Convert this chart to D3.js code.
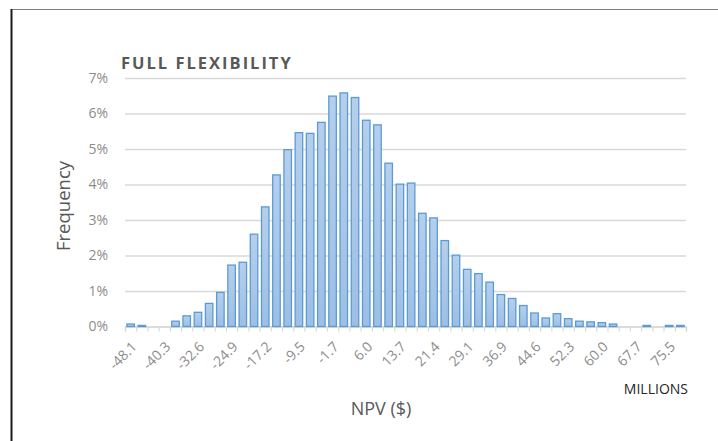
<!DOCTYPE html>
<html>
<head>
  <script src="https://cdn.jsdelivr.net/npm/d3@7" charset="utf-8"></script>
  <style>
    body { margin: 0; background: #fff; }
    svg text { font-family: "Open Sans", "Noto Sans", sans-serif; }
  </style>
</head>
<body>
  <script>

  var width = 718
  var height = 441

  // frequency per bin (%), 50 bins of ~2.57 million
  var freq = [
    0.07, 0.03, 0, 0, 0.15, 0.30, 0.40, 0.65, 0.96, 1.73,
    1.81, 2.60, 3.37, 4.27, 4.98, 5.46, 5.44, 5.75, 6.49, 6.58,
    6.45, 5.81, 5.68, 4.60, 4.01, 4.04, 3.19, 3.06, 2.42, 2.01,
    1.61, 1.49, 1.25, 0.90, 0.79, 0.59, 0.38, 0.24, 0.36, 0.22,
    0.15, 0.13, 0.11, 0.07, 0, 0, 0.03, 0, 0.03, 0.03
  ];

  // label shown under every third bin
  var tickLabels = ["-48.1", "-40.3", "-32.6", "-24.9", "-17.2", "-9.5", "-1.7", "6.0",
    "13.7", "21.4", "29.1", "36.9", "44.6", "52.3", "60.0", "67.7", "75.5"];

  var yTicks = [0, 1, 2, 3, 4, 5, 6, 7];

  var plotLeft = 125, plotRight = 686, plotTop = 78, plotBottom = 326.5;

  var svg = d3.select('body').append("svg")
    .attr("width", width)
    .attr("height", height);

  var grad = svg.append("defs").append("linearGradient")
    .attr("id", "barFill")
    .attr("x1", 0).attr("y1", 0).attr("x2", 0).attr("y2", 1);
  grad.append("stop").attr("offset", "0%").attr("stop-color", "#b5cfec");
  grad.append("stop").attr("offset", "100%").attr("stop-color", "#9dbfe5");

  // frame
  svg.append("line")
    .attr("x1", 11).attr("y1", 9.5).attr("x2", width).attr("y2", 9.5)
    .attr("stroke", "#7f7f7f").attr("stroke-width", 1);
  svg.append("line")
    .attr("x1", 11.5).attr("y1", 9).attr("x2", 11.5).attr("y2", height)
    .attr("stroke", "#1a1a1a").attr("stroke-width", 2);

  var x = d3.scaleBand()
    .domain(d3.range(freq.length))
    .range([plotLeft, plotRight])
    .paddingInner(0.33)
    .paddingOuter(0.165);

  var xb = d3.scaleLinear().domain([0, freq.length]).range([plotLeft, plotRight]);

  var y = d3.scaleLinear().domain([0, 7]).range([plotBottom, plotTop]);

  // y axis with gridlines
  var yAxis = svg.append("g")
    .attr("transform", "translate(" + plotLeft + ",0)")
    .call(d3.axisLeft(y).tickValues(yTicks).tickSize(-(plotRight - plotLeft)).tickPadding(17)
      .tickFormat(function(d) { return d + "%"; }));
  yAxis.select(".domain").remove();
  yAxis.selectAll(".tick line").attr("stroke", "#d9d9d9").attr("stroke-width", 1.4);
  yAxis.selectAll(".tick text")
    .attr("fill", "#8c8c8c")
    .attr("font-size", 14);

  // bin boundary tick marks
  var xTicks = svg.append("g")
    .attr("transform", "translate(0," + plotBottom + ")")
    .call(d3.axisBottom(xb).tickValues(d3.range(freq.length + 1)).tickSize(5).tickFormat(""));
  xTicks.select(".domain").attr("stroke", "#d9d9d9").attr("stroke-width", 1.4);
  xTicks.selectAll(".tick line").attr("stroke", "#d9d9d9").attr("stroke-width", 1.2);

  // bars
  svg.selectAll('.bar')
    .data(freq).enter()
    .append("rect")
    .attr("class", "bar")
    .attr("x", function(d, i) { return x(i); })
    .attr("width", x.bandwidth())
    .attr("y", function(d) { return y(d); })
    .attr("height", function(d) { return plotBottom - y(d); })
    .attr("fill", "url(#barFill)")
    .attr("stroke", function(d) { return d > 0 ? "#5b9bd5" : "none"; })
    .attr("stroke-width", 1.3);

  // category labels
  var xLab = svg.append("g")
    .attr("transform", "translate(0," + plotBottom + ")")
    .call(d3.axisBottom(x)
      .tickValues(d3.range(0, freq.length, 3))
      .tickSize(0)
      .tickFormat(function(d) { return tickLabels[d / 3]; }));
  xLab.select(".domain").remove();
  xLab.selectAll(".tick text")
    .attr("fill", "#8c8c8c")
    .attr("font-size", 14)
    .attr("text-anchor", "end")
    .attr("dy", 0)
    .attr("transform", "translate(5,19) rotate(-45)");

  // titles
  svg.append("text")
    .attr("x", 121).attr("y", 69)
    .attr("font-size", 16.5)
    .attr("font-weight", "bold")
    .attr("letter-spacing", 2)
    .attr("fill", "#595959")
    .text("FULL FLEXIBILITY");

  svg.append("text")
    .attr("transform", "translate(70,206) rotate(-90)")
    .attr("text-anchor", "middle")
    .attr("font-size", 18.5)
    .attr("fill", "#595959")
    .text("Frequency");

  svg.append("text")
    .attr("x", 381).attr("y", 415)
    .attr("text-anchor", "middle")
    .attr("font-size", 18)
    .attr("fill", "#595959")
    .text("NPV ($)");

  svg.append("text")
    .attr("x", 688).attr("y", 394)
    .attr("text-anchor", "end")
    .attr("font-size", 14)
    .attr("fill", "#262626")
    .text("MILLIONS");

  </script>

</body>
</html>
